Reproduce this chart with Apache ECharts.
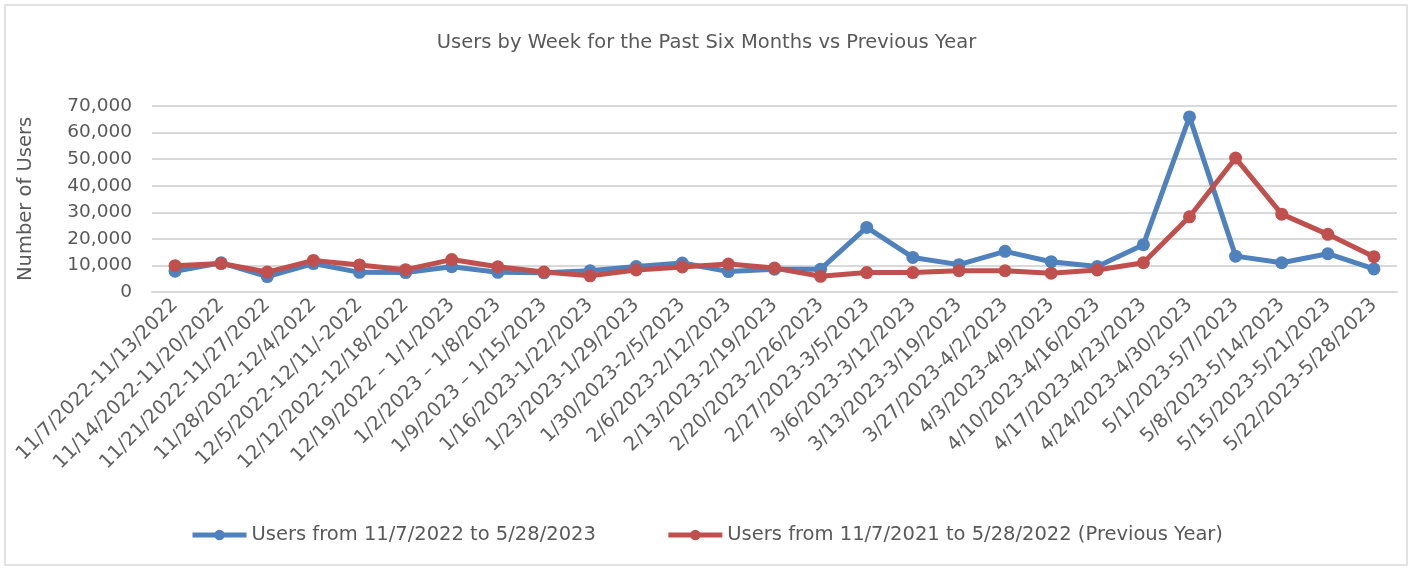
<!DOCTYPE html>
<html><head><meta charset="utf-8">
<script src="https://cdn.jsdelivr.net/npm/echarts@6/dist/echarts.min.js"></script>
<style>html,body{margin:0;padding:0;background:#fff}#c{width:1413px;height:569px}</style>
</head><body><div id="c"></div>
<script>
const categories = [
"11/7/2022-11/13/2022","11/14/2022-11/20/2022","11/21/2022-11/27/2022","11/28/2022-12/4/2022",
"12/5/2022-12/11/-2022","12/12/2022-12/18/2022","12/19/2022 \u2013 1/1/2023","1/2/2023 \u2013 1/8/2023",
"1/9/2023 \u2013 1/15/2023","1/16/2023-1/22/2023","1/23/2023-1/29/2023","1/30/2023-2/5/2023",
"2/6/2023-2/12/2023","2/13/2023-2/19/2023","2/20/2023-2/26/2023","2/27/2023-3/5/2023",
"3/6/2023-3/12/2023","3/13/2023-3/19/2023","3/27/2023-4/2/2023","4/3/2023-4/9/2023",
"4/10/2023-4/16/2023","4/17/2023-4/23/2023","4/24/2023-4/30/2023","5/1/2023-5/7/2023",
"5/8/2023-5/14/2023","5/15/2023-5/21/2023","5/22/2023-5/28/2023"];
const usersCurrent = [7800,11000,5800,10700,7400,7300,9500,7400,7200,8000,9600,10900,7700,8600,8600,24300,13000,10300,15300,11400,9600,17800,65900,13500,11000,14400,8700];
const usersPrevious = [9900,10700,7500,11900,10200,8400,12200,9500,7500,6100,8300,9400,10500,9000,5900,7300,7300,8000,8000,7100,8300,11000,28300,50400,29300,21700,13300];
const seriesNames = ["Users from 11/7/2022 to 5/28/2023","Users from 11/7/2021 to 5/28/2022 (Previous Year)"];
const FONT = "DejaVu Sans";
const TXT = "#595959";
const chart = echarts.init(document.getElementById('c'));
chart.setOption({
  animation:false,
  backgroundColor:'#fff',
  graphic:[{type:'rect',shape:{x:5,y:5,width:1402,height:560},style:{fill:'none',stroke:'#d9d9d9',lineWidth:1.5},silent:true}],
  title:{text:"Users by Week for the Past Six Months vs Previous Year",left:'center',top:28,
    textStyle:{fontFamily:FONT,fontSize:19.5,fontWeight:'normal',color:TXT}},
  legend:{bottom:19,left:'center',itemGap:70,itemWidth:54,itemHeight:13,
    lineStyle:{width:5},
    textStyle:{fontFamily:FONT,fontSize:19.5,color:TXT},
    data:seriesNames},
  grid:{left:152,right:16,top:106,bottom:277,containLabel:false},
  xAxis:{type:'category',data:categories,boundaryGap:true,
    axisLine:{show:true,lineStyle:{color:'#d9d9d9',width:2}},axisTick:{show:false},
    axisLabel:{rotate:45,interval:0,fontFamily:FONT,fontSize:19.5,color:'#606060',margin:10}},
  yAxis:{type:'value',min:0,max:70000,interval:10000,
    name:"Number of Users",nameLocation:'middle',nameGap:116,nameRotate:90,
    nameTextStyle:{fontFamily:FONT,fontSize:19.5,color:TXT},
    axisLine:{show:false},axisTick:{show:false},
    axisLabel:{fontFamily:FONT,fontSize:18.5,color:TXT,margin:20,
      formatter:v=>v.toLocaleString('en-US')},
    splitLine:{lineStyle:{color:'#d9d9d9',width:2}}},
  series:[
    {name:seriesNames[0],type:'line',data:usersCurrent,symbol:'circle',symbolSize:13,
      lineStyle:{color:'#4f81bd',width:5},itemStyle:{color:'#4f81bd'}},
    {name:seriesNames[1],type:'line',data:usersPrevious,symbol:'circle',symbolSize:13,
      lineStyle:{color:'#c0504d',width:5},itemStyle:{color:'#c0504d'}}
  ]
});
</script></body></html>
